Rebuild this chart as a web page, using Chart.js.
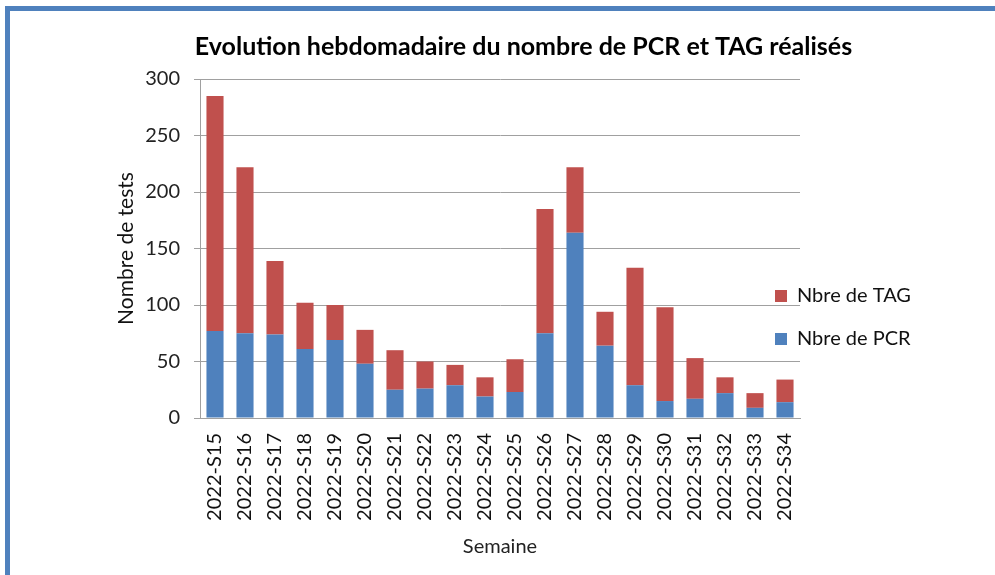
<!DOCTYPE html>
<html>
<head>
<meta charset="utf-8">
<script src="https://cdn.jsdelivr.net/npm/chart.js@4"></script>
<style>
  html, body { margin: 0; padding: 0; background: #fff; width: 995px; height: 575px; overflow: hidden; }
  #frame { position: absolute; left: 5px; top: 6px; width: 995px; height: 575px;
           border-left: 5px solid #4F81BD; border-top: 5px solid #4F81BD; }
  #wrap { position: absolute; left: 52px; top: 0; width: 943px; height: 575px; }
</style>
</head>
<body>
<div id="frame"></div>
<div id="wrap"><canvas id="c" width="943" height="575"></canvas></div>
<script>
const categories = ["2022-S15","2022-S16","2022-S17","2022-S18","2022-S19","2022-S20","2022-S21","2022-S22","2022-S23","2022-S24","2022-S25","2022-S26","2022-S27","2022-S28","2022-S29","2022-S30","2022-S31","2022-S32","2022-S33","2022-S34"];
const pcrValues = [77,75,74,61,69,48,25,26,29,19,23,75,164,64,29,15,17,22,9,14];
const tagValues = [208,147,65,41,31,30,35,24,18,17,29,110,58,30,104,83,36,14,13,20];
const seriesNames = ["Nbre de PCR", "Nbre de TAG"];
const chartTitle = "Evolution hebdomadaire du nombre de PCR et TAG réalisés";
const yTitle = "Nombre de tests";
const xTitle = "Semaine";

const FONT = "Lato, 'Open Sans', sans-serif";
const GRID = "#A0A0A0";

const legendPlace = {
  id: 'legendPlace',
  afterLayout(chart) {
    const lg = chart.legend;
    if (!lg) return;
    const pad = lg.options.labels.padding;
    lg.left = 723 - pad;
    lg.right = lg.left + 215;
    lg.width = 215;
    lg.top = 263;
    lg.bottom = lg.top + 200;
    lg.height = 200;
  }
};

new Chart(document.getElementById('c'), {
  type: 'bar',
  data: {
    labels: categories,
    datasets: [
      { label: seriesNames[0], data: pcrValues, backgroundColor: '#4F81BD', borderWidth: 0 },
      { label: seriesNames[1], data: tagValues, backgroundColor: '#C0504D', borderWidth: 0 }
    ]
  },
  options: {
    responsive: false,
    animation: false,
    devicePixelRatio: 1,
    layout: { padding: { left: 0, right: 0, top: 0, bottom: 0 } },
    datasets: { bar: { categoryPercentage: 1.0, barPercentage: 0.57 } },
    plugins: {
      title: {
        display: true, text: chartTitle, color: '#000',
        font: { family: FONT, size: 25, weight: 'bold' },
        padding: { top: 32, bottom: 17 }
      },
      legend: {
        display: true, position: 'chartArea', align: 'start', reverse: true,
        labels: { boxWidth: 12, boxHeight: 12, padding: 23, color: '#111',
                  font: { family: FONT, size: 20 } }
      },
      tooltip: { enabled: false }
    },
    scales: {
      x: {
        stacked: true,
        grid: { display: false, drawTicks: false },
        border: { display: true, color: GRID, width: 1 },
        ticks: { color: '#111', font: { family: FONT, size: 20 }, minRotation: 90, maxRotation: 90, padding: 15, autoSkip: false },
        title: { display: true, text: xTitle, color: '#222', font: { family: FONT, size: 20 }, padding: { top: 0, bottom: 16 } },
        afterFit(s) { s.height = 157; }
      },
      y: {
        stacked: true, min: 0, max: 300,
        grid: { color: GRID, lineWidth: 1, drawTicks: true, tickLength: 6, tickColor: GRID },
        border: { display: true, color: GRID, width: 1 },
        ticks: { stepSize: 50, color: '#222', font: { family: FONT, size: 20 }, padding: 14 },
        title: { display: true, text: yTitle, color: '#111', font: { family: FONT, size: 21 }, padding: { top: 62, bottom: 0 } },
        afterFit(s) { s.width = 148; }
      },
      yRight: {
        position: 'right', display: true,
        grid: { display: false, drawTicks: false },
        border: { display: false },
        ticks: { display: false },
        afterFit(s) { s.width = 195; }
      }
    }
  },
  plugins: [legendPlace]
});
</script>
</body>
</html>
